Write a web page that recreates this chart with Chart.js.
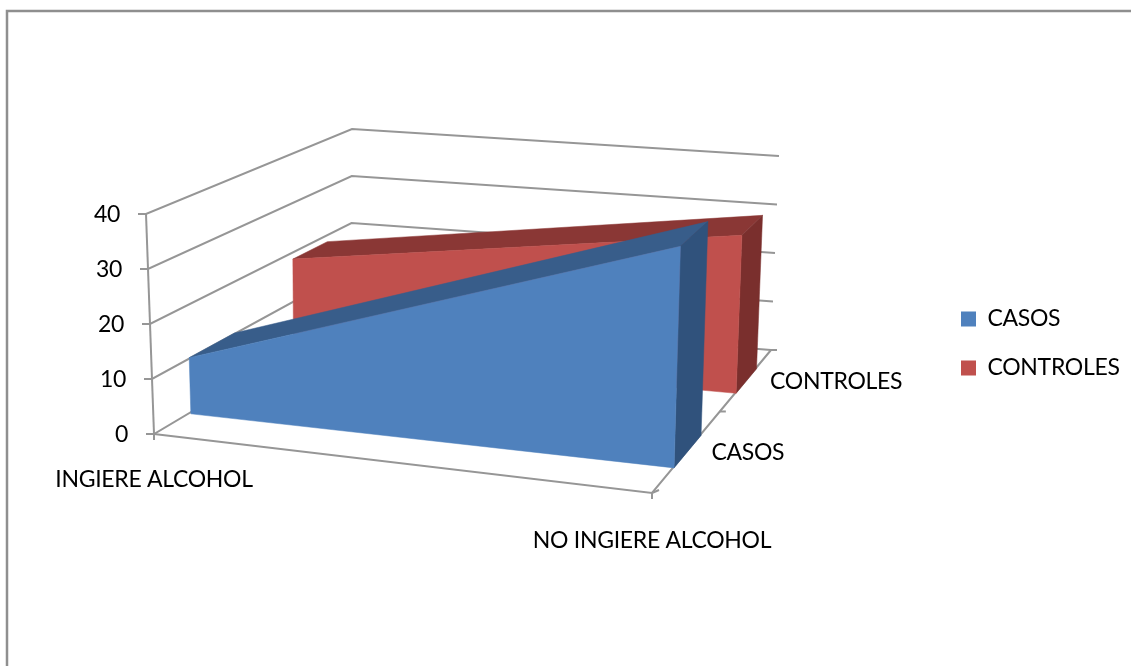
<!DOCTYPE html>
<html>
<head>
<meta charset="utf-8">
<style>
  html, body { margin: 0; padding: 0; background: #fff; overflow: hidden; }
  canvas { display: block; }
</style>
<script src="https://cdn.jsdelivr.net/npm/chart.js@4"></script>
</head>
<body>
<canvas id="chart" width="1131" height="666"></canvas>
<script>
const categories = ['INGIERE ALCOHOL', 'NO INGIERE ALCOHOL'];
const casos = [10.5, 40];
const controles = [19, 31];
const yTicks = [0, 10, 20, 30, 40];

const FONT = '23px Lato';
const LINE = '#969696';

// screen corners of the 3d box
const box = {
  floor: { fl: [154, 434], fr: [652, 493], bl: [351, 317], br: [771, 350] },
  top:   { fl: [146, 214], fr: [658, 265], bl: [352, 129], br: [779, 156] },
};
const DEPTH_K = 1.326; // foreshortening along the depth axis

function mix(a, b, t) {
  return [a[0] + (b[0] - a[0]) * t, a[1] + (b[1] - a[1]) * t];
}

function project(u, depth, h) {
  const d = depth * DEPTH_K / (1 + depth * (DEPTH_K - 1));
  const onLevel = (c) => mix(mix(c.fl, c.fr, u), mix(c.bl, c.br, u), d);
  return mix(onLevel(box.floor), onLevel(box.top), h);
}

function poly(ctx, pts, color) {
  ctx.fillStyle = color;
  ctx.strokeStyle = color;
  ctx.lineWidth = 0.5;
  ctx.beginPath();
  pts.forEach((p, i) => (i ? ctx.lineTo(p[0], p[1]) : ctx.moveTo(p[0], p[1])));
  ctx.closePath();
  ctx.fill();
  ctx.stroke();
}

function line(ctx, pts) {
  ctx.beginPath();
  pts.forEach((p, i) => (i ? ctx.lineTo(p[0], p[1]) : ctx.moveTo(p[0], p[1])));
  ctx.stroke();
}

const area3d = {
  id: 'area3d',
  afterLayout(chart) {
    // legend sits beside the box, not centred on the plot
    const lg = chart.legend;
    const pad = lg.options.labels.padding;
    lg.left = 961 - pad;
    lg.top = 319 - 11.5 - pad;
  },
  beforeDraw(chart) {
    chart.ctx.letterSpacing = '-0.3px';
  },
  beforeDatasetsDraw(chart) {
    const { ctx, scales: { x, y } } = chart;
    const frac = (v) => (y.bottom - y.getPixelForValue(v)) / (y.bottom - y.top);
    const uOf = (i) => (x.getPixelForValue(i) - x.left) / (x.right - x.left);

    ctx.save();

    // frame of the pasted picture
    ctx.strokeStyle = '#8f8f8f';
    ctx.lineWidth = 2.5;
    line(ctx, [[7, 666], [7, 11], [1131, 11]]);

    // walls and floor
    ctx.strokeStyle = LINE;
    ctx.lineWidth = 2;
    yTicks.forEach((v) => {
      const h = frac(v);
      const a = project(0, 0, h);
      line(ctx, [[a[0] - 8, a[1]], a, project(0, 1, h), project(1, 1, h)]);
    });
    line(ctx, [project(0, 0, 0), project(0, 0, 1)]);
    line(ctx, [project(0, 0, 0), project(1, 0, 0), project(1, 1, 0)]);
    line(ctx, [project(1, 1, 0), [project(1, 1, 0)[0] + 6, project(1, 1, 0)[1]]]);
    const mid = project(1, 0.5, 0);
    line(ctx, [mid, [mid[0] + 6, mid[1]]]);
    const fr = project(1, 0, 0);
    line(ctx, [[fr[0], fr[1] + 6], fr, [fr[0] + 7, fr[1] - 3]]);
    const fl = project(0, 0, 0);
    line(ctx, [fl, [fl[0], fl[1] + 6]]);

    // back series first
    const n = chart.data.datasets.length;
    ctx.save();
    ctx.translate(-0.5, 2);
    for (let s = n - 1; s >= 0; s--) {
      const ds = chart.data.datasets[s];
      const front = (s + 0.5) / n - 0.1;
      const back = (s + 0.5) / n + 0.1;
      const first = ds.data[0];
      const last = ds.data[ds.data.length - 1];
      const u0 = uOf(0);
      const u1 = uOf(ds.data.length - 1);
      poly(ctx, [project(u0, front, frac(first)), project(u1, front, frac(last)),
                 project(u1, back, frac(last)), project(u0, back, frac(first))], ds.topColor);
      poly(ctx, [project(u1, front, 0), project(u1, front, frac(last)),
                 project(u1, back, frac(last)), project(u1, back, 0)], ds.sideColor);
      poly(ctx, [project(u0, front, 0), project(u0, front, frac(first)),
                 project(u1, front, frac(last)), project(u1, front, 0)], ds.backgroundColor);
    }
    ctx.restore();

    // axis text
    ctx.fillStyle = '#000';
    ctx.font = FONT;
    ctx.textBaseline = 'middle';
    ctx.textAlign = 'right';
    yTicks.forEach((v) => {
      const p = project(0, 0, frac(v));
      ctx.fillText(String(v), p[0] - 26, p[1] + 1);
    });
    ctx.textAlign = 'center';
    categories.forEach((c, i) => {
      const p = project(uOf(i), 0, 0);
      ctx.fillText(c, p[0], p[1] + (i ? 48 : 46));
    });
    ctx.textAlign = 'left';
    chart.data.datasets.forEach((ds, s) => {
      const p = project(1, (s + 0.5) / n, 0);
      ctx.fillText(ds.label, p[0] + 23, p[1] + 3);
    });

    ctx.restore();
  },
};

new Chart(document.getElementById('chart'), {
  type: 'line',
  data: {
    labels: categories,
    datasets: [
      { label: 'CASOS', data: casos, backgroundColor: '#4f81bd', borderColor: '#4f81bd', borderWidth: 0, showLine: false, pointRadius: 0, topColor: '#385d8a', sideColor: '#30527c' },
      { label: 'CONTROLES', data: controles, backgroundColor: '#c0504d', borderColor: '#c0504d', borderWidth: 0, showLine: false, pointRadius: 0, topColor: '#8a3735', sideColor: '#7a2f2d' },
    ],
  },
  options: {
    responsive: false,
    animation: false,
    layout: { padding: { left: 150, right: 10, top: 214, bottom: 232 } },
    plugins: {
      tooltip: { enabled: false },
      legend: {
        position: 'right',
        align: 'start',
        labels: { boxWidth: 15, boxHeight: 15, padding: 26, color: '#000', font: { family: 'Lato', size: 23 } },
      },
    },
    scales: {
      x: { offset: false, display: true, grid: { display: false }, border: { display: false }, ticks: { display: false } },
      y: { min: 0, max: 40, grid: { display: false }, border: { display: false }, ticks: { display: false, stepSize: 10 } },
    },
  },
  plugins: [area3d],
});
</script>
</body>
</html>
